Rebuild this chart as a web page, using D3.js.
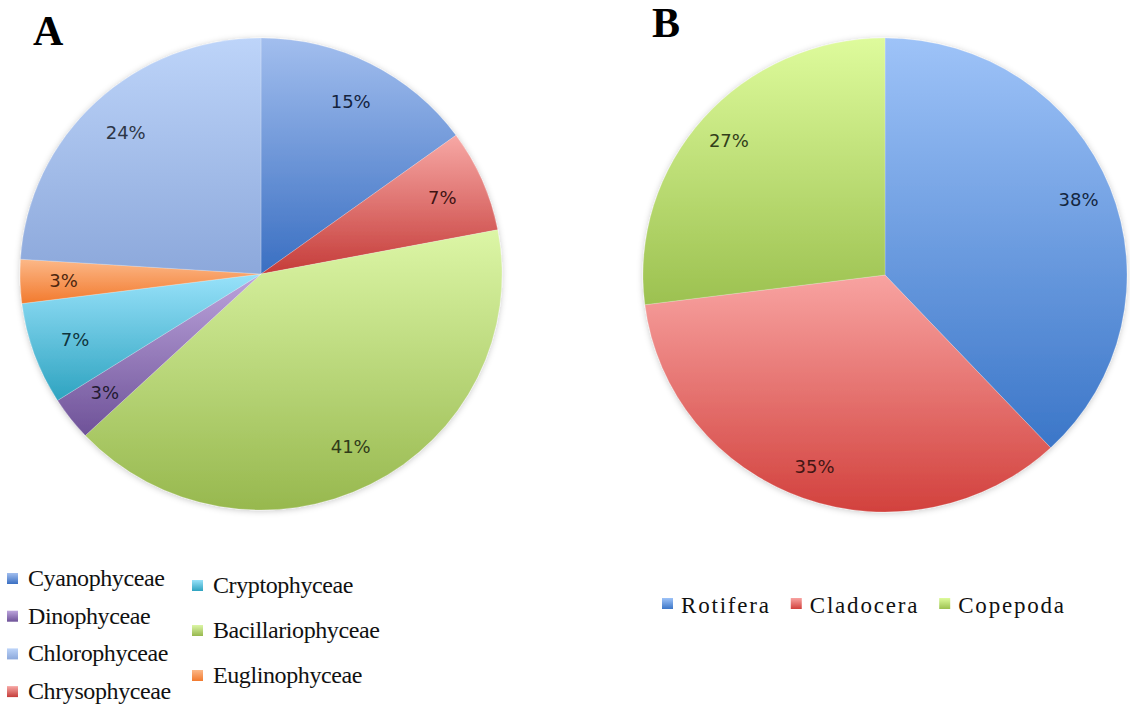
<!DOCTYPE html>
<html>
<head>
<meta charset="utf-8">
<script src="https://cdn.jsdelivr.net/npm/d3@7/dist/d3.min.js"></script>
<style>
  html, body { margin: 0; padding: 0; background: #ffffff; }
  svg { display: block; }
</style>
</head>
<body>
<svg id="chart" width="1130" height="704"></svg>
<script>
// ---------- DATA ----------
const phytoCategories = ["Cyanophyceae", "Chrysophyceae", "Bacillariophyceae", "Dinophyceae", "Cryptophyceae", "Euglinophyceae", "Chlorophyceae"];
const phytoValues = [15, 7, 41, 3, 7, 3, 24];
const phytoLegendCol1 = ["Cyanophyceae", "Dinophyceae", "Chlorophyceae", "Chrysophyceae"];
const phytoLegendCol2 = ["Cryptophyceae", "Bacillariophyceae", "Euglinophyceae"];

const zooCategories = ["Rotifera", "Cladocera", "Copepoda"];
const zooValues = [38, 35, 27];

const panelTitles = ["A", "B"];

// ---------- STYLE ----------
const gradStops = {
  Cyanophyceae:      ["#a2beee", "#3a6fc2"],
  Chrysophyceae:     ["#f7a8a5", "#c53c39"],
  Bacillariophyceae: ["#dcf6a6", "#97b84e"],
  Dinophyceae:       ["#bca4dc", "#6e5298"],
  Cryptophyceae:     ["#98e2fa", "#2ea3c0"],
  Euglinophyceae:    ["#fcb888", "#f27a2e"],
  Chlorophyceae:     ["#bdd4f9", "#8ca8db"],
  Rotifera:          ["#9ec3f8", "#3b76c8"],
  Cladocera:         ["#f8a3a1", "#d2413d"],
  Copepoda:          ["#defb9c", "#9cc150"]
};

const svg = d3.select("#chart");
const defs = svg.append("defs");

Object.keys(gradStops).forEach(k => {
  const g = defs.append("linearGradient")
    .attr("id", "grad-" + k)
    .attr("x1", 0).attr("y1", 0).attr("x2", 0).attr("y2", 1);
  g.append("stop").attr("offset", "0%").attr("stop-color", gradStops[k][0]);
  g.append("stop").attr("offset", "100%").attr("stop-color", gradStops[k][1]);
});

const shadow = defs.append("filter").attr("id", "soft")
  .attr("x", "-10%").attr("y", "-10%").attr("width", "120%").attr("height", "120%");
shadow.append("feDropShadow")
  .attr("dx", 0).attr("dy", 1).attr("stdDeviation", 3)
  .attr("flood-color", "#000").attr("flood-opacity", 0.22);

function drawPie(cfg) {
  const { cats, vals, cx, cy, rx, ry, labelFactor } = cfg;
  const pie = d3.pie().sort(null).value(d => d.v);
  const data = pie(cats.map((c, i) => ({ c, v: vals[i] })));
  const arc = d3.arc().innerRadius(0).outerRadius(rx);
  const lab = d3.arc().innerRadius(rx * labelFactor).outerRadius(rx * labelFactor);
  const sy = ry / rx;

  const g = svg.append("g")
    .attr("transform", `translate(${cx},${cy}) scale(1,${sy})`)
    .attr("filter", "url(#soft)");
  g.selectAll("path").data(data).join("path")
    .attr("d", arc)
    .attr("fill", d => `url(#grad-${d.data.c})`)
    .attr("stroke", "rgba(255,255,255,0.35)")
    .attr("stroke-width", 0.6);

  const tg = svg.append("g").attr("transform", `translate(${cx},${cy})`);
  tg.selectAll("text").data(data).join("text")
    .attr("x", d => lab.centroid(d)[0])
    .attr("y", d => lab.centroid(d)[1] * sy)
    .attr("text-anchor", "middle")
    .attr("dominant-baseline", "central")
    .attr("font-family", "'DejaVu Sans', Verdana, sans-serif")
    .attr("font-size", 18)
    .attr("fill", d => d3.color(gradStops[d.data.c][1]).darker(3.2))
    .text(d => Math.round(d.data.v / d3.sum(vals) * 100) + "%");
}

drawPie({ cats: phytoCategories, vals: phytoValues, cx: 261, cy: 274, rx: 241, ry: 236, labelFactor: 0.82 });
drawPie({ cats: zooCategories, vals: zooValues, cx: 885, cy: 275, rx: 242, ry: 237, labelFactor: 0.86 });

// Panel titles
svg.selectAll("text.title").data(panelTitles).join("text")
  .attr("class", "title")
  .attr("x", (d, i) => i === 0 ? 33 : 652)
  .attr("y", (d, i) => i === 0 ? 45 : 37)
  .attr("font-family", "'Liberation Serif', 'Times New Roman', serif")
  .attr("font-weight", "bold")
  .attr("font-size", 42)
  .attr("fill", "#000")
  .text(d => d);

// Legend A (two columns)
function legendColumn(items, x0, y0, step) {
  const g = svg.append("g");
  const row = g.selectAll("g").data(items).join("g")
    .attr("transform", (d, i) => `translate(${x0},${y0 + i * step})`);
  row.append("rect")
    .attr("x", 0).attr("y", -13).attr("width", 11).attr("height", 11)
    .attr("fill", d => `url(#grad-${d})`);
  row.append("text")
    .attr("x", 21).attr("y", 0)
    .attr("font-family", "'Liberation Serif', 'Times New Roman', serif")
    .attr("font-size", 24)
    .attr("letter-spacing", -0.4)
    .attr("fill", "#111")
    .text(d => d);
}
legendColumn(phytoLegendCol1, 7, 586, 37.7);
legendColumn(phytoLegendCol2, 192, 593, 45);

// Legend B (horizontal flow)
(function () {
  const g = svg.append("g").attr("transform", "translate(0,613)");
  let x = 662;
  zooCategories.forEach(c => {
    g.append("rect").attr("x", x).attr("y", -15).attr("width", 11).attr("height", 11)
      .attr("fill", `url(#grad-${c})`);
    const t = g.append("text")
      .attr("x", x + 19).attr("y", 0)
      .attr("font-family", "'Liberation Serif', 'Times New Roman', serif")
      .attr("font-size", 23)
      .attr("letter-spacing", 1.8)
      .attr("fill", "#111")
      .text(c);
    x = x + 19 + t.node().getComputedTextLength() + 20;
  });
})();
</script>
</body>
</html>
